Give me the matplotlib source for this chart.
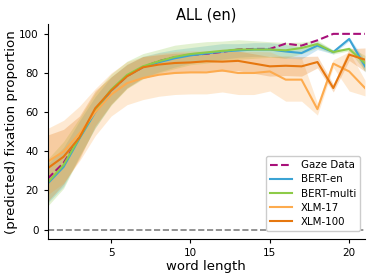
import numpy as np
import matplotlib
matplotlib.use("Agg")
import matplotlib.pyplot as plt

# -----------------------------
# DATA
# -----------------------------
word_length = np.arange(1, 22)

gaze = [26, 34, 47, 61, 71, 78.5, 83, 86, 88, 89.3, 89.8, 90.8, 92, 92.3,
        92.3, 95, 94, 96.7, 100, 100, 100]
bert_en = [23.5, 32, 46.5, 60, 71, 78.5, 83, 85.5, 87.5, 89, 90, 91, 91.5,
           92, 92, 91, 90.2, 94, 90.7, 97.4, 83.4]
bert_multi = [24, 33, 47, 61, 71.5, 79, 83.4, 86, 88.2, 89.7, 90.5, 91.3,
              92, 92, 92, 91.6, 92.8, 94.8, 90.7, 92.3, 85]
xlm17 = [34.7, 39.8, 49, 60, 69, 74.8, 77.4, 79.1, 80, 80.3, 80.3, 81.3, 80,
         80, 80.8, 76.6, 76.6, 61.5, 84.8, 80.8, 72.3]
xlm100 = [31.3, 37.2, 47, 62, 71, 78.3, 82.9, 84.3, 85.1, 85.4, 86, 85.8,
          86.2, 84.8, 83.4, 83.7, 83.4, 85.6, 72.3, 89.4, 86.8]

# confidence band half widths
ci_en = [10, 10, 9, 8, 7, 6, 5.5, 5, 4.5, 4, 4, 4, 3.5, 3.5, 3.5, 3.5, 3, 2, 1, 1, 3]
ci_multi = [12, 12, 10, 9, 8, 7, 6.5, 6, 6, 5.5, 5.5, 5, 5, 4.5, 4, 4, 3, 2, 1, 1, 4]
ci_17 = [17, 16, 14, 12, 11, 11, 11, 11, 11, 11, 11, 11, 11, 11, 10, 11, 11, 3, 2, 10, 4]
ci_100 = [17, 14, 11, 9, 7, 6, 5.5, 5, 5, 5, 5, 5, 5, 5, 5, 5, 5, 3, 2, 3, 6]

models = [
    ("BERT-en", bert_en, ci_en, "#3ba3d4"),
    ("BERT-multi", bert_multi, ci_multi, "#8dcb48"),
    ("XLM-17", xlm17, ci_17, "#fdab4e"),
    ("XLM-100", xlm100, ci_100, "#e6770f"),
]

# -----------------------------
# PLOT
# -----------------------------
fig = plt.figure(figsize=(3.74, 2.8), dpi=100)
ax = fig.add_axes([0.1275, 0.1454, 0.976 - 0.1275, 0.914 - 0.1454])

ax.axhline(0, color="gray", linestyle="--", linewidth=1.2)

# gaze line sits under the model lines
ax.plot(word_length, gaze, color="#a8107a", linestyle="--", linewidth=1.5,
        label="Gaze Data", zorder=1.5)

for name, vals, ci, col in models:
    vals = np.array(vals)
    ci = np.array(ci)
    ax.fill_between(word_length, vals - ci, vals + ci, color=col, alpha=0.25,
                    linewidth=0, zorder=1)
    ax.plot(word_length, vals, color=col, linewidth=1.5, label=name, zorder=2)

ax.set_xlim(1, 21)
ax.set_ylim(-5, 105)
ax.set_xticks([5, 10, 15, 20])
ax.set_yticks([0, 20, 40, 60, 80, 100])
ax.tick_params(labelsize=7.5, length=3)
ax.spines["top"].set_visible(False)
ax.spines["right"].set_visible(False)

ax.set_title("ALL (en)", fontsize=10.5, pad=3)
ax.set_xlabel("word length", fontsize=9.5, labelpad=1)
ax.set_ylabel("(predicted) fixation proportion", fontsize=9.6, labelpad=0.5)

leg = ax.legend(loc="lower right", fontsize=7.4, handlelength=2.2,
                borderpad=0.4, labelspacing=0.4, framealpha=1,
                bbox_to_anchor=(1.0, 0.015))
leg.set_zorder(10)

plt.savefig("out.png", dpi=100)
